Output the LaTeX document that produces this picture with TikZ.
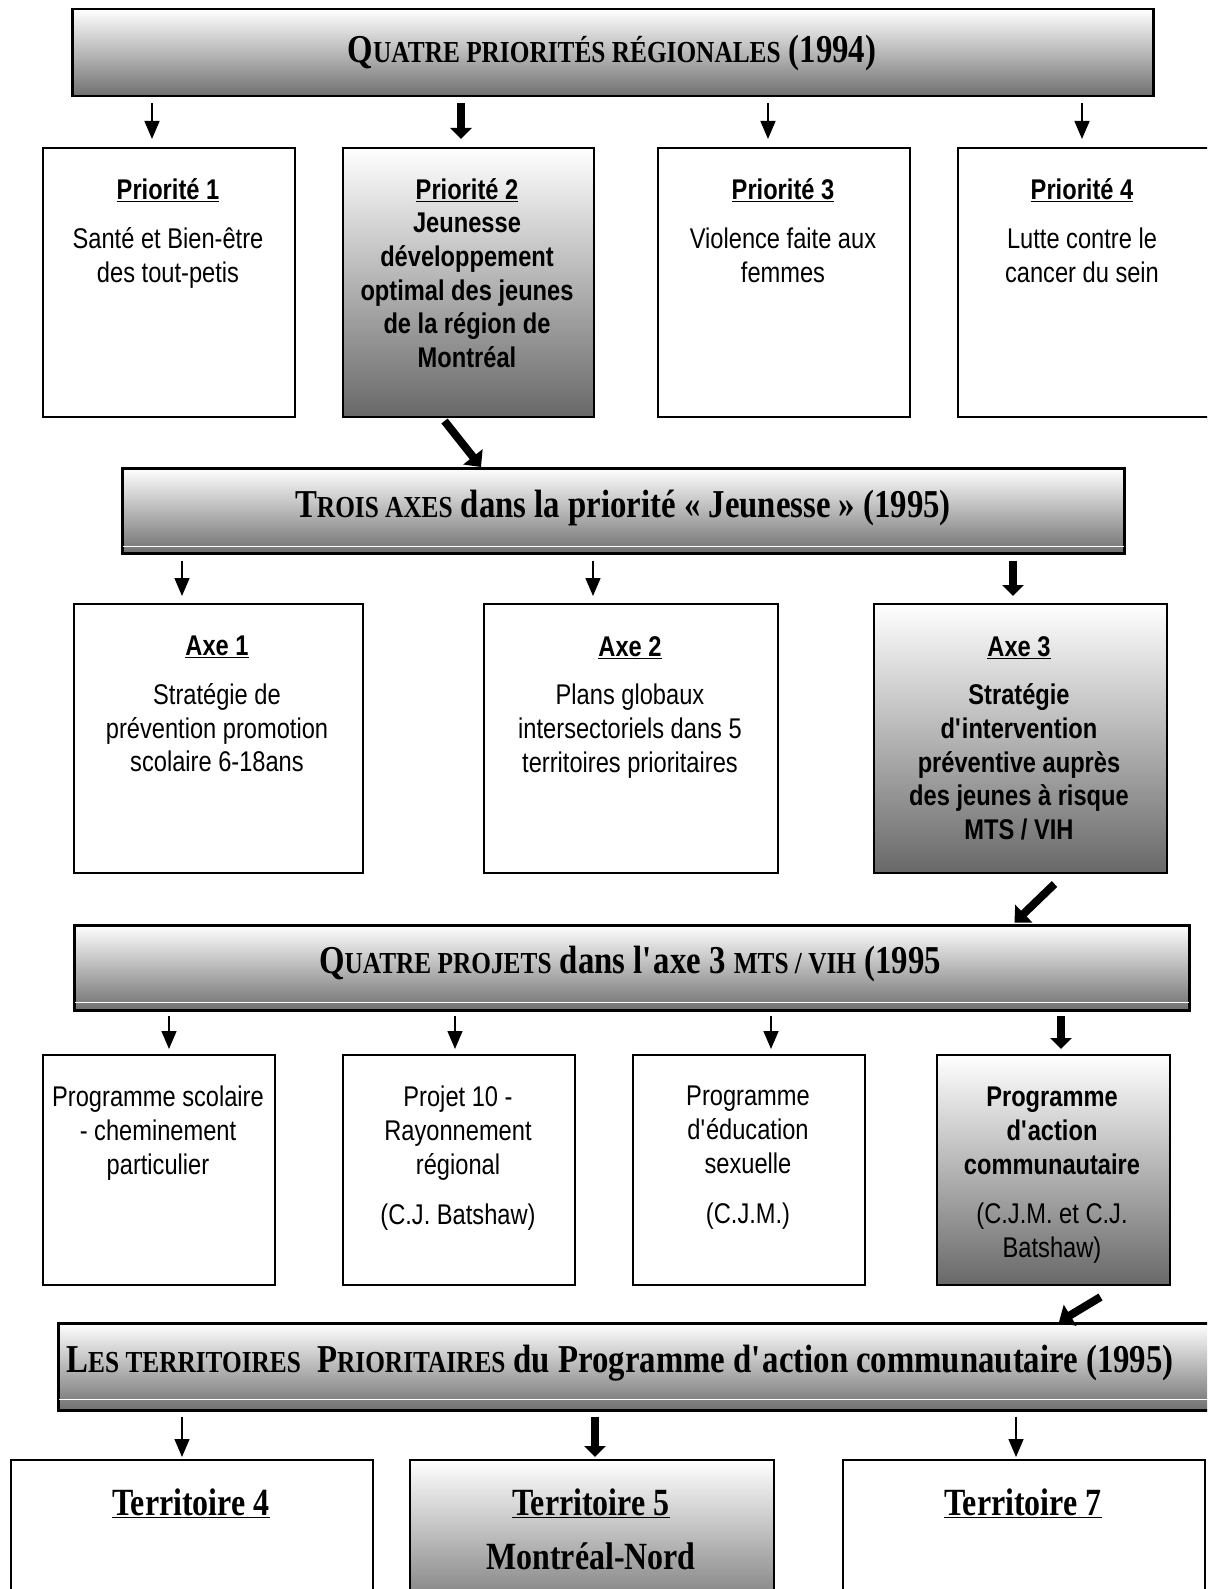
\documentclass[tikz,border=0pt]{standalone}
\usepackage{fontspec}
\setmainfont{Liberation Serif}[FakeStretch=0.83]
\newfontfamily\narrowsans{Liberation Sans}[FakeStretch=0.83]
\usetikzlibrary{arrows.meta}

\definecolor{boxgray}{RGB}{104,104,104}
\definecolor{bandgray}{RGB}{112,112,112}
\newcommand\apos{\textquotesingle}
\newcommand\psc[1]{{\fontsize{30.5}{30.5}\selectfont #1}}

\tikzset{
  plainbox/.style={draw=black, line width=2pt, fill=white, anchor=north west, inner sep=0pt},
  shadebox/.style={draw=black, line width=2pt, top color=white, bottom color=boxgray, anchor=north west, inner sep=0pt},
  band/.style={draw=black, line width=2.5pt, top color=white, bottom color=bandgray, anchor=north west, inner sep=0pt},
  bodytext/.style={font=\narrowsans\fontsize{28.5}{33.7}\selectfont, align=center, anchor=north, inner sep=0pt},
  bandtext/.style={font=\bfseries\fontsize{39.5}{42}\selectfont, anchor=base, inner sep=0pt},
  terrtext/.style={font=\bfseries\fontsize{38.5}{42}\selectfont, anchor=base, inner sep=0pt},
  thinarr/.style={line width=1.5pt, -{Triangle[width=15pt,length=18pt]}},
  thickarr/.style={line width=7.5pt, -{Triangle[width=21pt,length=11pt]}},
  diagarr/.style={line width=8pt, -{Triangle[width=24pt,length=13pt]}},
}

\begin{document}
\begin{tikzpicture}[x=1pt,y=-1pt]
\clip (0,0) rectangle (1207,1589);
\fill[white] (0,0) rectangle (1207,1589);

% ---------- level 1 : regional priorities ----------
\node[band, minimum width=1081pt, minimum height=87pt] (b1) at (71,8) {};
\node[bandtext] (b1t) at (612,63) {Q\psc{UATRE PRIORITÉS RÉGIONALES} (1994)};

\node[plainbox, minimum width=252pt, minimum height=269pt] (p1) at (42,147) {};
\node[shadebox, minimum width=251pt, minimum height=269pt] (p2) at (342,147) {};
\node[plainbox, minimum width=252pt, minimum height=269pt] (p3) at (657,147) {};
\node[plainbox, minimum width=262pt, minimum height=269pt] (p4) at (957,147) {};

\node[bodytext] (p1t) at (168,178) {\textbf{\underline{Priorité 1}}\\[16pt]Santé et Bien-être\\des tout-petis};
\node[bodytext] (p2t) at (467,178) {\textbf{\underline{Priorité 2}}\\\textbf{Jeunesse}\\\textbf{développement}\\\textbf{optimal des jeunes}\\\textbf{de la région de}\\\textbf{Montréal}};
\node[bodytext] (p3t) at (783,178) {\textbf{\underline{Priorité 3}}\\[16pt]Violence faite aux\\femmes};
\node[bodytext] (p4t) at (1082,178) {\textbf{\underline{Priorité 4}}\\[16pt]Lutte contre le\\cancer du sein};

\draw[thinarr, shorten <=6pt, shorten >=8pt] (152,0 |- b1.south) -- (152,0 |- p1.north);
\draw[thickarr, shorten <=6pt, shorten >=8pt] (461,0 |- b1.south) -- (461,0 |- p2.north);
\draw[thinarr, shorten <=6pt, shorten >=8pt] (768,0 |- b1.south) -- (768,0 |- p3.north);
\draw[thinarr, shorten <=6pt, shorten >=8pt] (1082,0 |- b1.south) -- (1082,0 |- p4.north);

% ---------- level 2 : youth axes ----------
\node[band, minimum width=1002pt, minimum height=85pt] (b2) at (121,467) {};
\draw[white, line width=1.5pt] ([xshift=2pt,yshift=8pt]b2.south west) -- ([xshift=-2pt,yshift=8pt]b2.south east);
\node[bandtext] (b2t) at (623,517) {T\psc{ROIS AXES} dans la priorité « Jeunesse » (1995)};
\draw[diagarr] ([xshift=-24pt,yshift=-3pt]p2.south) -- (481,0 |- b2.north);

\node[plainbox, minimum width=289pt, minimum height=269pt] (a1) at (73,603) {};
\node[plainbox, minimum width=294pt, minimum height=269pt] (a2) at (483,603) {};
\node[shadebox, minimum width=293pt, minimum height=269pt] (a3) at (873,603) {};

\node[bodytext] (a1t) at (217,636) {\textbf{\underline{Axe 1}}\\[15pt]Stratégie de\\prévention promotion\\scolaire 6-18ans};
\node[bodytext] (a2t) at (630,636) {\textbf{\underline{Axe 2}}\\[15pt]Plans globaux\\intersectoriels dans 5\\territoires prioritaires};
\node[bodytext] (a3t) at (1019,636) {\textbf{\underline{Axe 3}}\\[15pt]\textbf{Stratégie}\\\textbf{d\apos intervention}\\\textbf{préventive auprès}\\\textbf{des jeunes à risque}\\\textbf{MTS / VIH}};

\draw[thinarr, shorten <=6pt, shorten >=7pt] (182,0 |- b2.south) -- (182,0 |- a1.north);
\draw[thinarr, shorten <=6pt, shorten >=7pt] (593,0 |- b2.south) -- (593,0 |- a2.north);
\draw[thickarr, shorten <=6pt, shorten >=7pt] (1013,0 |- b2.south) -- (1013,0 |- a3.north);

% ---------- level 3 : STD / HIV projects ----------
\node[band, minimum width=1115pt, minimum height=85pt] (b3) at (73,924) {};
\draw[white, line width=1.5pt] ([xshift=2pt,yshift=9pt]b3.south west) -- ([xshift=-2pt,yshift=9pt]b3.south east);
\node[bandtext] (b3t) at (630,973) {Q\psc{UATRE PROJETS} dans l\apos axe 3 \psc{MTS / VIH} (1995};
\draw[diagarr, shorten >=2pt] ([xshift=34pt,yshift=-10pt]a3.south) -- (1013,0 |- b3.north);

\node[plainbox, minimum width=232pt, minimum height=230pt] (c1) at (42,1054) {};
\node[plainbox, minimum width=232pt, minimum height=230pt] (c2) at (342,1054) {};
\node[plainbox, minimum width=232pt, minimum height=230pt] (c3) at (632,1054) {};
\node[shadebox, minimum width=233pt, minimum height=230pt] (c4) at (936,1054) {};

\node[bodytext] (c1t) at (158,1086) {Programme scolaire\\- cheminement\\particulier};
\node[bodytext] (c2t) at (458,1086) {Projet 10 -\\Rayonnement\\régional\\[17pt](C.J. Batshaw)};
\node[bodytext] (c3t) at (748,1086) {Programme\\d\apos éducation\\sexuelle\\[17pt](C.J.M.)};
\node[bodytext] (c4t) at (1052,1087) {\textbf{Programme}\\\textbf{d\apos action}\\\textbf{communautaire}\\[16pt](C.J.M. et C.J.\\Batshaw)};

\draw[thinarr, shorten <=4pt, shorten >=5pt] (169,0 |- b3.south) -- (169,0 |- c1.north);
\draw[thinarr, shorten <=4pt, shorten >=5pt] (455,0 |- b3.south) -- (455,0 |- c2.north);
\draw[thinarr, shorten <=4pt, shorten >=5pt] (771,0 |- b3.south) -- (771,0 |- c3.north);
\draw[thickarr, shorten <=4pt, shorten >=5pt] (1061,0 |- b3.south) -- (1061,0 |- c4.north);

% ---------- level 4 : priority territories ----------
\node[band, minimum width=1170pt, minimum height=87pt] (b4) at (57,1322) {};
\draw[white, line width=1.5pt] ([xshift=2pt,yshift=12pt]b4.south west) -- ([xshift=-2pt,yshift=12pt]b4.south east);
\node[bandtext] (b4t) at (620,1372) {L\psc{ES TERRITOIRES}\hspace{8pt} P\psc{RIORITAIRES} du Programme d\apos action communautaire (1995)};
\draw[diagarr] ([xshift=47pt,yshift=-11pt]c4.south) -- (1059,0 |- b4.north);

\node[plainbox, minimum width=362pt, minimum height=170pt] (t4) at (10,1459) {};
\node[shadebox, minimum width=364pt, minimum height=170pt] (t5) at (409,1459) {};
\node[plainbox, minimum width=362pt, minimum height=170pt] (t7) at (842,1459) {};

\node[terrtext] (t4t) at (191,1515) {\underline{Territoire 4}};
\node[terrtext] (t5t) at (591,1515) {\underline{Territoire 5}};
\node[terrtext] (t5n) at (591,1569) {Montréal-Nord};
\node[terrtext] (t7t) at (1023,1515) {\underline{Territoire 7}};

\draw[thinarr, shorten <=5pt, shorten >=2pt] (182,0 |- b4.south) -- (182,0 |- t4.north);
\draw[thickarr, shorten <=5pt, shorten >=2pt] (595,0 |- b4.south) -- (595,0 |- t5.north);
\draw[thinarr, shorten <=5pt, shorten >=2pt] (1016,0 |- b4.south) -- (1016,0 |- t7.north);
\end{tikzpicture}
\end{document}
